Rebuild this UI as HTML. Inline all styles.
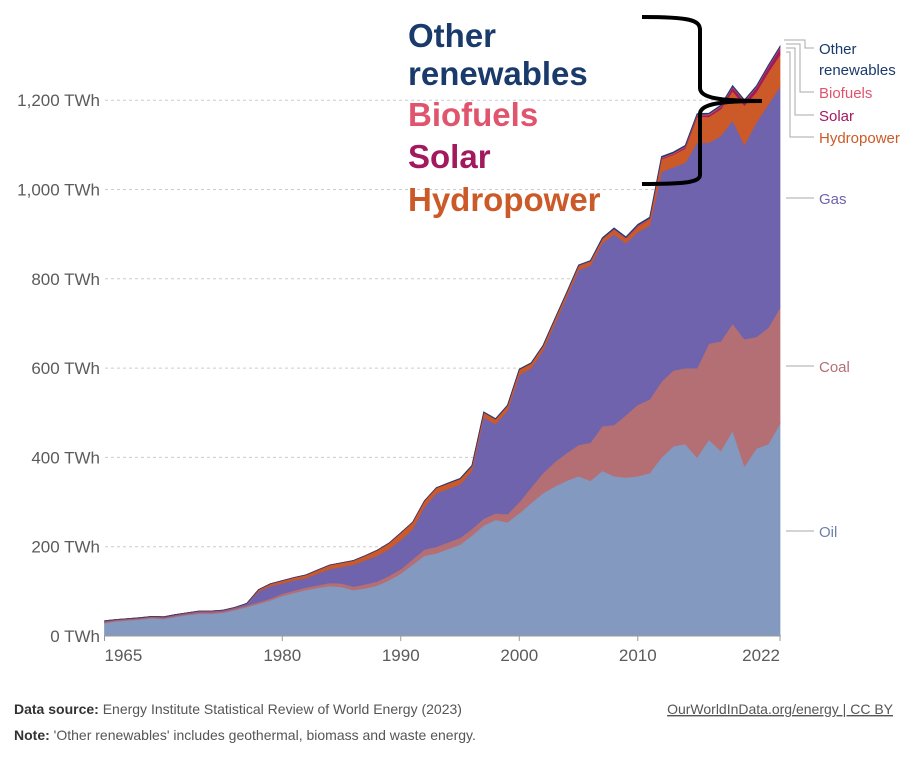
<!DOCTYPE html>
<html><head><meta charset="utf-8"><style>
body{margin:0;background:#fff;width:906px;height:754px;overflow:hidden;font-family:"Liberation Sans",sans-serif}
</style></head><body>
<svg id="c" width="906" height="754" xmlns="http://www.w3.org/2000/svg"></svg>
<script>
const years=[];for(let y=1965;y<=2022;y++)years.push(y);
const oil=[29,33,35,37,40,38,43,47,50,50,52,58,65,72,80,90,97,103,108,112,110,103,107,113,125,140,160,180,185,195,205,225,248,260,255,275,298,320,335,348,358,348,370,358,355,358,365,400,425,430,400,440,415,460,380,420,430,475];
const coal=[2,2,2,2,2,2,2,2,3,3,3,3,3,4,4,5,5,6,6,7,8,8,9,9,10,10,12,14,15,15,15,15,15,15,18,25,35,45,55,62,70,85,100,115,140,160,165,170,170,170,200,215,245,240,285,250,260,260];
const gas=[2,1,1,1,1,2,2,2,2,2,2,2,4,24,28,23,23,21,26,31,37,49,54,58,60,65,68,96,120,120,120,130,227,200,232,285,267,275,310,350,392,397,410,427,385,387,390,470,455,460,505,450,460,455,435,480,500,495];
const hydro=[1,1,1,1,1,1,1,1,1,1,1,1,1,4,5,6,6,7,8,9,9,9,10,12,13,16,15,13,12,12,12,11,11,11,11,12,11,10,10,9,9,9,9,10,10,12,13,28,28,32,58,58,60,66,88,68,72,72];
const solar=[0,0,0,0,0,0,0,0,0,0,0,0,0,0,0,0,0,0,0,0,0,0,0,0,0,0,0,0,0,0,0,0,0,0,0,0,0,0,0,0,0,0,0,0,0,1,1,2,2,3,3,4,5,8,9,10,12,15];
const biofuels=[0,0,0,0,0,0,0,0,0,0,0,0,0,0,0,0,0,0,0,0,0,0,0,0,0,0,0,0,0,0,0,0,0,0,0,0,0,0,0,0,1,1,1,2,2,2,2,2,2,2,2,2,2,2,2,2,2,2];
const other=[0,0,0,0,0,0,0,0,0,0,0,0,0,0,0,0,0,0,0,0,0,0,0,0,0,0,0,0,0,1,1,1,1,1,1,1,1,1,1,1,1,1,2,2,2,2,2,2,2,2,2,2,2,2,2,2,2,2];
const yTicks=[0,200,400,600,800,1000,1200];
const xTicks=[1965,1980,1990,2000,2010,2022];
const series=[["oil",oil,"#8499bf"],["coal",coal,"#b46f74"],["gas",gas,"#6f63ad"],["hydropower",hydro,"#cc5a28"],["solar",solar,"#a2195d"],["biofuels",biofuels,"#e0546e"],["other-renewables",other,"#1a3a6b"]];
const X=y=>104.5+(y-1965)*(675.5/57), Y=v=>636-v*0.4465;
const svg=document.getElementById('c'),NS="http://www.w3.org/2000/svg";
function mk(t,a,p){const e=document.createElementNS(NS,t);for(const k in a)e.setAttribute(k,a[k]);(p||svg).appendChild(e);return e;}
yTicks.forEach(v=>{
 if(v>0){const g=mk('line',{x1:105,x2:780,y1:Y(v),y2:Y(v),stroke:'#ccc','stroke-dasharray':'3,3'});
 
 }
 const t=mk('text',{x:100,y:Y(v)+6,'text-anchor':'end','font-size':17,fill:'#5b5b5b'});t.textContent=v.toLocaleString('en-US')+' TWh';
 
 
});
let base=years.map(()=>0);
series.forEach(([n,vals,col])=>{
 const top=base.map((b,i)=>b+vals[i]);
 let d='M'+years.map((y,i)=>X(y)+','+Y(top[i])).join('L');
 for(let i=years.length-1;i>=0;i--)d+='L'+X(years[i])+','+Y(base[i]);
 const p=mk('path',{d:d+'Z',fill:col,stroke:col,'stroke-width':0.8,'stroke-opacity':0.9});
 
 
 base=top;
});
mk('line',{x1:104,x2:781,y1:636,y2:636,stroke:'#999'});
xTicks.forEach((y,i)=>{
 mk('line',{x1:X(y),x2:X(y),y1:636,y2:641,stroke:'#999'});
 const t=mk('text',{x:X(y),y:661,'text-anchor':i==0?'start':(i==xTicks.length-1?'end':'middle'),'font-size':17,fill:'#5b5b5b'});
 t.textContent=y;
 
 
});
const labs=[["Other",48,"#1a3a6b"],["renewables",69,"#1a3a6b"],["Biofuels",92,"#e0546e"],["Solar",115,"#a2195d"],["Hydropower",137,"#cc5a28"],["Gas",198,"#6f63ad"],["Coal",366,"#b46f74"],["Oil",531,"#6d81a8"]];
labs.forEach(([s,y,c])=>{const t=mk('text',{x:819,y:y+6,'font-size':15,fill:c});t.textContent=s;
 
 });
[[198],[366],[531]].forEach(([a])=>mk('line',{x1:786,x2:814,y1:a,y2:a,stroke:'#aaa'}));
mk('path',{d:'M784,40 L805,40 L805,48 L814,48 M786,44 L800,44 L800,92 L814,92 M786,48 L795,48 L795,115 L814,115 M786,52 L790,52 L790,137 L814,137',fill:'none',stroke:'#aaa'});
const big=[["Other",47,"#1a3a6b"],["renewables",85,"#1a3a6b"],["Biofuels",126,"#e0546e"],["Solar",168,"#a2195d"],["Hydropower",211,"#cc5a28"]];
big.forEach(([s,y,c])=>{const t=mk('text',{x:408,y:y,'font-size':33,'font-weight':'bold',fill:c});t.textContent=s;
 
 });
const br=mk('path',{d:'M642,17 C690,17 700,20 700,30 L700,88 C700,98 720,101 762,101 C720,101 700,104 700,114 L700,175 C700,183 680,184 642,184',fill:'none',stroke:'#000','stroke-width':4});


const f1=mk('text',{x:14,y:714,'font-size':14,fill:'#555'});f1.innerHTML='<tspan font-weight="bold" fill="#333">Data source:</tspan> Energy Institute Statistical Review of World Energy (2023)';

const f2=mk('text',{x:14,y:740,'font-size':14,fill:'#555'});f2.innerHTML='<tspan font-weight="bold" fill="#333">Note:</tspan> \'Other renewables\' includes geothermal, biomass and waste energy.';

const f3=mk('text',{x:893,y:714,'font-size':14,fill:'#555','text-anchor':'end','text-decoration':'underline'});f3.textContent='OurWorldInData.org/energy | CC BY';

</script>
</body></html>
